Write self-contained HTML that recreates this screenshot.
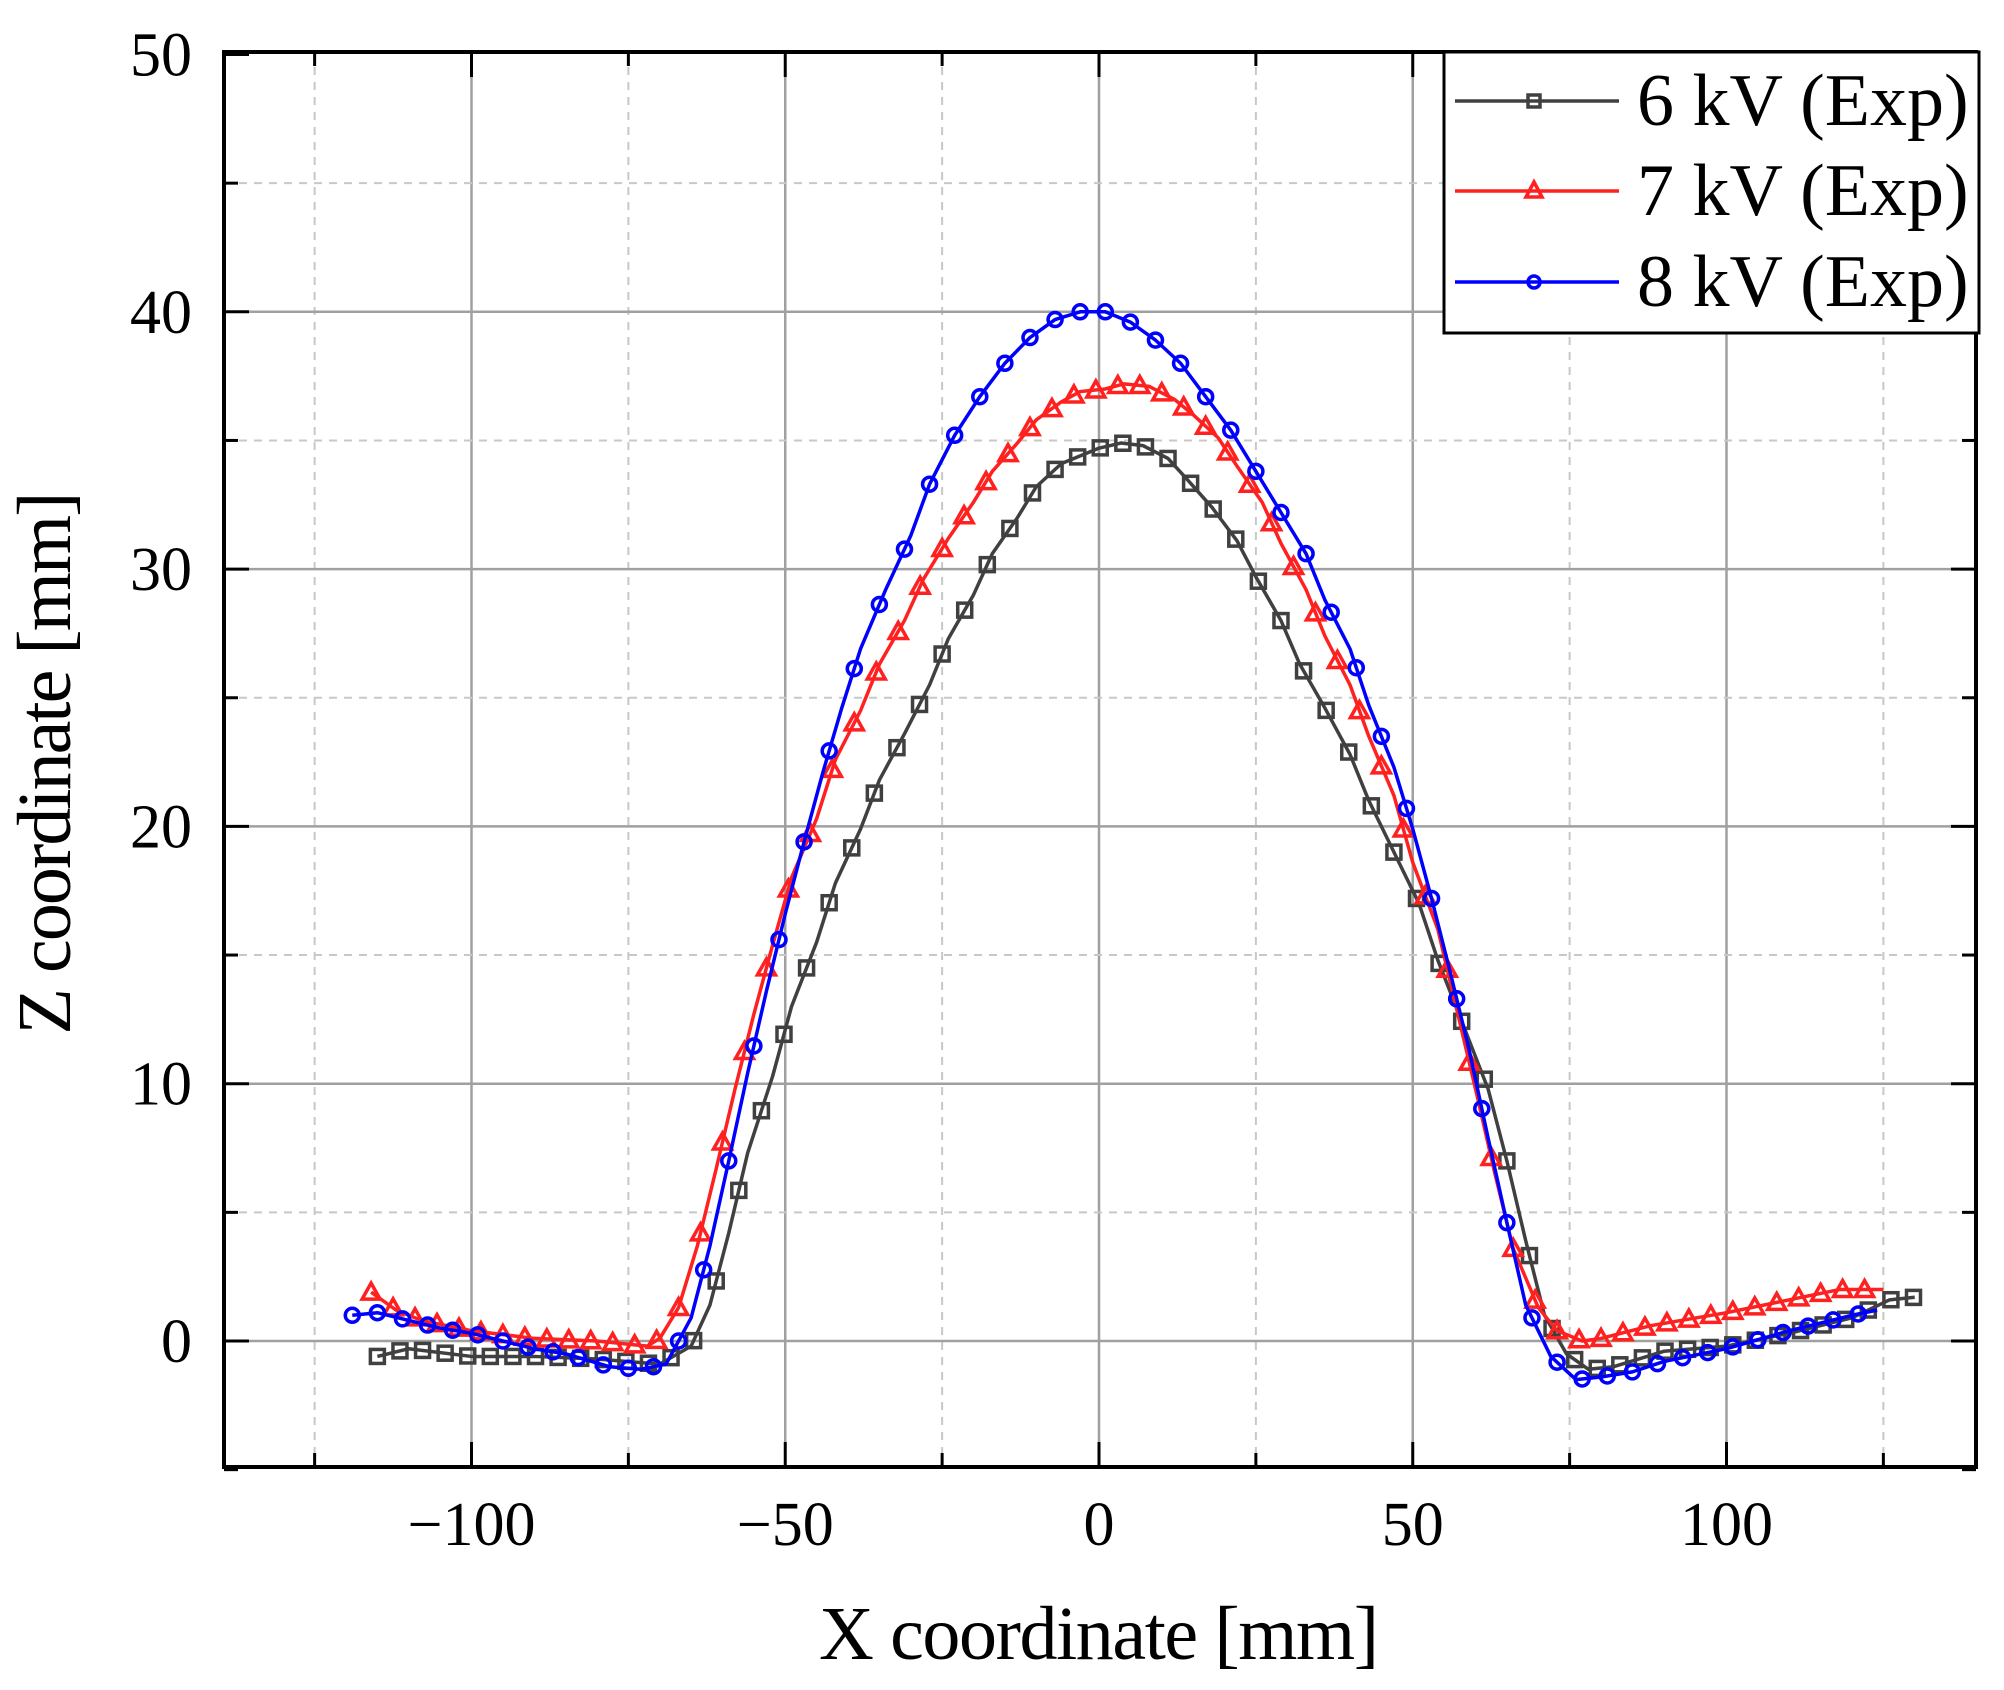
<!DOCTYPE html>
<html><head><meta charset="utf-8"><style>html,body{margin:0;padding:0;background:#fff}svg{display:block}</style></head>
<body>
<svg id="s" width="2004" height="1690" xmlns="http://www.w3.org/2000/svg" font-family="Liberation Serif, serif">
<g id="grid"></g>
<g id="data"></g>
<g id="axes"></g>
<rect x="1444" y="52" width="535" height="281" fill="#fff" stroke="#000" stroke-width="3"/>
<line x1="1455" y1="101" x2="1619" y2="101" stroke="#404040" stroke-width="3.5"/>
<rect x="1528" y="95" width="12" height="12" fill="none" stroke="#404040" stroke-width="3.5"/>
<line x1="1455" y1="191" x2="1619" y2="191" stroke="#ff2020" stroke-width="3.5"/>
<polygon points="1534,182 1542,197 1526,197" fill="none" stroke="#ff2020" stroke-width="3.5"/>
<line x1="1455" y1="282" x2="1619" y2="282" stroke="#0000ff" stroke-width="3.5"/>
<circle cx="1534" cy="282" r="6" fill="none" stroke="#0000ff" stroke-width="3.5"/>
<text x="1637" y="125" font-size="74">6 kV (Exp)</text>
<text x="1637" y="215" font-size="74">7 kV (Exp)</text>
<text x="1637" y="306" font-size="74">8 kV (Exp)</text>
<text x="1099" y="1659" font-size="76" text-anchor="middle" textLength="560">X coordinate [mm]</text>
<text transform="translate(70,763) rotate(-90)" font-size="76" text-anchor="middle" textLength="543">Z coordinate [mm]</text>
</svg>
<script>
const L=224,R=1976,T=52,B=1467;
const X0=1099,SX=6.275,Y0=1341,SY=25.73;
const px=x=>X0+x*SX, py=y=>Y0-y*SY;
const NS="http://www.w3.org/2000/svg";
function el(p,n,a){const e=document.createElementNS(NS,n);for(const k in a)e.setAttribute(k,a[k]);p.appendChild(e);return e;}
const g=document.getElementById('grid'),ax=document.getElementById('axes'),d=document.getElementById('data');
for(let v=-125;v<=125;v+=25){const x=px(v);const maj=v%50==0;
 el(g,'line',{x1:x,y1:T,x2:x,y2:B,stroke:maj?'#a0a0a0':'#c8c8c8','stroke-width':maj?2.5:2,'stroke-dasharray':maj?'':'8,7'});
 el(ax,'line',{x1:x,y1:B,x2:x,y2:B-(maj?25:14),stroke:'#000','stroke-width':3});
 el(ax,'line',{x1:x,y1:T,x2:x,y2:T+(maj?25:14),stroke:'#000','stroke-width':3});
 if(maj){const t=el(ax,'text',{x:x,y:1545,'font-size':62,'text-anchor':'middle'});t.textContent=v<0?'\u2212'+(-v):v;}}
for(let v=-5;v<=50;v+=5){const y=py(v);const maj=v%10==0;
 if(v>-5&&v<50)el(g,'line',{x1:L,y1:y,x2:R,y2:y,stroke:maj?'#a0a0a0':'#c8c8c8','stroke-width':maj?2.5:2,'stroke-dasharray':maj?'':'8,7'});
 el(ax,'line',{x1:L,y1:y,x2:L+(maj?25:14),y2:y,stroke:'#000','stroke-width':3});
 el(ax,'line',{x1:R,y1:y,x2:R-(maj?25:14),y2:y,stroke:'#000','stroke-width':3});
 if(maj){const t=el(ax,'text',{x:192,y:y+21,'font-size':62,'text-anchor':'end'});t.textContent=v;}}
el(ax,'rect',{x:L,y:T,width:R-L,height:B-T,fill:'none',stroke:'#000','stroke-width':4});
const S6=[[-115,-0.6],[-110,-0.3],[-100,-0.6],[-90,-0.6],[-80,-0.7],[-70,-0.9],[-65,-0.2],[-62,1.4],[-59,4.2],[-56,7.3],[-52,10.3],[-49,13],[-45,15.5],[-42,17.8],[-38,19.9],[-35,21.8],[-31,23.6],[-27,25.5],[-24,27.3],[-20,29],[-17,30.6],[-13,32],[-10,33.2],[-6,34.1],[0,34.7],[3.5,34.9],[7,34.8],[11,34.3],[14,33.5],[18,32.4],[22,31.1],[25,29.7],[29,28],[32,26.3],[36,24.6],[40,22.8],[43,21],[47,19],[51,17],[54,14.8],[58,12.3],[62,9.8],[65,7],[68,3.9],[71,1],[74.5,-0.5],[78,-1.1],[82,-1.0],[90,-0.4],[100,-0.2],[110,0.3],[120,0.9],[126,1.6],[130,1.7]];
const S7=[[-116,1.9],[-112,1.2],[-108,0.8],[-100,0.4],[-90,0.1],[-80,0],[-72,-0.2],[-70,0.1],[-67,1.3],[-64,3.7],[-61,6.7],[-58,9.8],[-55,12.7],[-52,15.4],[-49,18],[-45,20.3],[-42,22.6],[-38,24.5],[-35,26.3],[-31,28],[-28,29.6],[-24,31.2],[-20,32.6],[-17,33.8],[-13,34.9],[-10,35.8],[-6,36.5],[-3,36.9],[1,37],[4,37.2],[8,37.1],[12,36.6],[15,36],[19,35.1],[22,34],[26,32.6],[29,31],[33,29.2],[36,27.4],[40,25.5],[43,23.5],[47,21.2],[50,18.6],[54,16],[57,12.9],[60,9.8],[63,6.6],[66,3.6],[70,1.3],[73,0.4],[77,0],[80,0.1],[88,0.6],[100,1.1],[110,1.6],[118,2],[125,2]];
const S8=[[-119,1],[-115,1.1],[-110,0.8],[-105,0.5],[-100,0.3],[-95,0],[-90,-0.3],[-85,-0.5],[-78,-1],[-73,-1.1],[-69,-0.9],[-65,0.9],[-62,3.7],[-59,7],[-56,10.4],[-53,13.6],[-50,16.6],[-47,19.4],[-44,22.1],[-41,24.6],[-38,26.9],[-34,29.2],[-30,31.3],[-27,33.3],[-23,35.2],[-19,36.7],[-15,38],[-11,39],[-7,39.7],[-3,40],[1,40],[5,39.6],[9,38.9],[13,38],[17,36.7],[21,35.4],[25,33.8],[29,32.2],[33,30.6],[36,28.8],[40,26.9],[43,24.7],[47,22.3],[50,19.9],[53,17.2],[56,14.3],[59,11.3],[62,7.9],[65,4.6],[68,1.4],[72,-0.6],[76,-1.5],[80,-1.4],[85,-1.2],[90,-0.8],[100,-0.3],[110,0.4],[120,1],[124,1.2]];
function interp(S,x){for(let i=0;i<S.length-1;i++){if(x>=S[i][0]&&x<=S[i+1][0]){const t=(x-S[i][0])/(S[i+1][0]-S[i][0]);return S[i][1]+t*(S[i+1][1]-S[i][1]);}}return S[S.length-1][1];}
function draw(S,col,m,step){
 el(d,'polyline',{points:S.map(p=>px(p[0])+','+py(p[1])).join(' '),fill:'none',stroke:col,'stroke-width':3.5,'stroke-linejoin':'round'});
 const x0=S[0][0],x1=S[S.length-1][0];
 for(let x=x0;x<=x1+0.01;x+=step){const X=px(x),Y=py(interp(S,x));
  if(m=='s')el(d,'rect',{x:X-7,y:Y-7,width:14,height:14,fill:'none',stroke:col,'stroke-width':3.5});
  else if(m=='t')el(d,'polygon',{points:`${X},${Y-9} ${X+9},${Y+7} ${X-9},${Y+7}`,fill:'none',stroke:col,'stroke-width':3.5});
  else el(d,'circle',{cx:X,cy:Y,r:7,fill:'none',stroke:col,'stroke-width':3.5});}}
draw(S6,'#404040','s',3.6);
draw(S7,'#ff2020','t',3.5);
draw(S8,'#0000ff','c',4.0);
</script>
</body></html>
